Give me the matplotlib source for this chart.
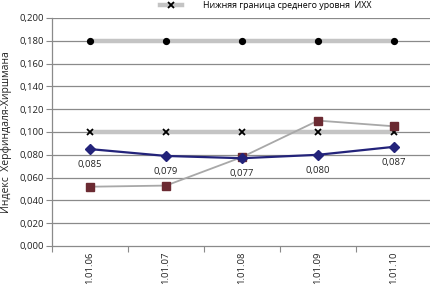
import matplotlib
matplotlib.use("Agg")
import matplotlib.pyplot as plt
from matplotlib.lines import Line2D

plt.rcParams['font.family'] = ['Open Sans', 'DejaVu Sans']

categories = ["1.01.06", "1.01.07", "1.01.08", "1.01.09", "1.01.10"]
hhi = [0.085, 0.079, 0.077, 0.080, 0.087]
hhi_labels = ["0,085", "0,079", "0,077", "0,080", "0,087"]
second = [0.052, 0.053, 0.078, 0.110, 0.105]
upper = [0.180, 0.180, 0.180, 0.180, 0.180]
lower = [0.100, 0.100, 0.100, 0.100, 0.100]
yticks = [0.0, 0.02, 0.04, 0.06, 0.08, 0.10, 0.12, 0.14, 0.16, 0.18, 0.20]
ytick_labels = ["0,000", "0,020", "0,040", "0,060", "0,080", "0,100",
                "0,120", "0,140", "0,160", "0,180", "0,200"]
legend_label = "Нижняя граница среднего уровня  ИХХ"
ylabel = "Индекс  Херфиндаля-Хиршмана"

W, H = 430, 289
fig = plt.figure(figsize=(W / 100, H / 100), dpi=100)
ax = fig.add_axes([52 / W, 1 - 246 / H, 380 / W, 228 / H])

x = list(range(len(categories)))
grid_c = "#8a8a8a"
for yv in yticks[1:]:
    ax.axhline(yv, color=grid_c, lw=0.9, zorder=1)

ax.plot(x, upper, color="#c4c4c4", lw=3.2, zorder=2, solid_capstyle="butt")
ax.plot(x, upper, ls="none", marker="o", ms=4.2, color="black", zorder=5)
ax.plot(x, lower, color="#c4c4c4", lw=3.2, zorder=2, solid_capstyle="butt")
ax.plot(x, lower, ls="none", marker="x", ms=3.8, mew=1.3, color="black", zorder=5)
ax.plot(x, second, color="#a8a8a8", lw=1.3, zorder=3)
ax.plot(x, second, ls="none", marker="s", ms=5.2, color="#6b2a32", zorder=5)
ax.plot(x, hhi, color="#23237a", lw=1.6, marker="D", ms=5, zorder=6)

for xi, v, lab in zip(x, hhi, hhi_labels):
    ax.annotate(lab, (xi, v), xytext=(0, -11), textcoords="offset points",
                ha="center", va="center", fontsize=6.8, color="#222222")

ax.set_xlim(-0.5, 4.5)
ax.set_ylim(0, 0.2)
ax.set_yticks(yticks)
ax.set_yticklabels(ytick_labels, fontsize=6.8, color="#222222")
ax.set_xticks([i + 0.5 for i in range(-1, 5)])
ax.set_xticklabels([])
ax.set_xticks(x, minor=True)
ax.set_xticklabels(categories, minor=True, rotation=90, fontsize=6.8, color="#222222")
ax.tick_params(axis="x", which="minor", length=0, pad=4)
ax.tick_params(axis="x", which="major", length=4, color=grid_c, direction="out")
ax.tick_params(axis="y", length=4, color=grid_c, pad=2)
for s in ["top", "right"]:
    ax.spines[s].set_visible(False)
for s in ["left", "bottom"]:
    ax.spines[s].set_color(grid_c)
    ax.spines[s].set_linewidth(0.9)

ax.set_ylabel(ylabel, fontsize=7.5, color="#222222", labelpad=5)

handle = Line2D([], [], color="#c4c4c4", lw=3.2, marker="x", ms=3.8, mew=1.3,
                markeredgecolor="black")
fig.legend([handle], [legend_label], loc="center left",
           bbox_to_anchor=(160 / W, 1 - 6 / H), frameon=False, fontsize=6.4,
           handlelength=2.5, handletextpad=2.3, borderpad=0, borderaxespad=0)

fig.savefig("out.png", dpi=100)
